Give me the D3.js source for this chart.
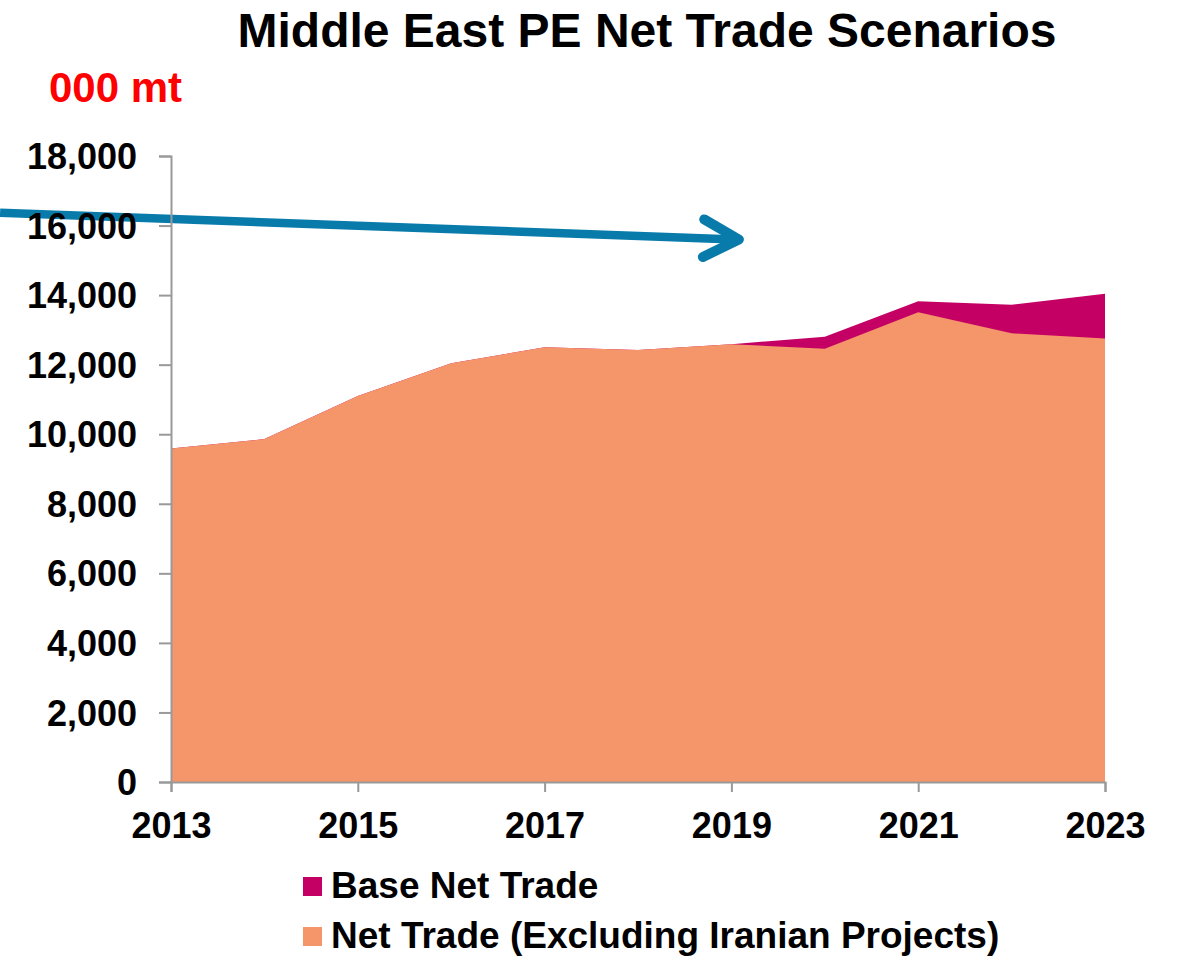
<!DOCTYPE html>
<html><head><meta charset="utf-8">
<script src="https://cdn.jsdelivr.net/npm/d3@7"></script>
<style>body{margin:0;background:#fff}svg{display:block;font-family:"Liberation Sans",Arial,sans-serif}</style>
</head><body>
<svg id="c" width="1178" height="965"></svg>
<script>
const years = [2013,2014,2015,2016,2017,2018,2019,2020,2021,2022,2023];
const baseNetTrade = [9590,9860,11100,12040,12500,12420,12590,12800,13820,13720,14040];
const netTradeExIran = [9590,9860,11100,12040,12500,12420,12590,12460,13510,12900,12750];
const yTicks = [0,2000,4000,6000,8000,10000,12000,14000,16000,18000];
const xTicks = [2013,2015,2017,2019,2021,2023];
const seriesNames = ["Base Net Trade","Net Trade (Excluding Iranian Projects)"];
const seriesColors = ["#C40064","#F4956A"];
// annotation arrow in data space
const arrowFrom = [2011.17, 16370];
const arrowTo = [2019.08, 15600];

const svg = d3.select("#c");
const x = d3.scaleLinear().domain([2013,2023]).range([171,1105]);
const y = d3.scaleLinear().domain([0,18000]).range([782,156]);

const area = vals => d3.area().x((d,i)=>x(years[i])).y0(y(0)).y1(d=>y(d))(vals);
svg.append("path").attr("d",area(baseNetTrade)).attr("fill",seriesColors[0]);
svg.append("path").attr("d",area(netTradeExIran)).attr("fill",seriesColors[1]);

// Arrow annotation (behind axes)
const ax1 = x(arrowFrom[0]), ay1 = y(arrowFrom[1]), ax2 = x(arrowTo[0]), ay2 = y(arrowTo[1]);
const ang = Math.atan2(ay2-ay1, ax2-ax1);
const hl = 40, ha = 28*Math.PI/180;
svg.append("line").attr("x1",ax1).attr("y1",ay1).attr("x2",ax2-4).attr("y2",ay2)
  .attr("stroke","#087BAB").attr("stroke-width",8.5);
svg.append("path")
  .attr("d",`M${ax2-hl*Math.cos(ang-ha)},${ay2-hl*Math.sin(ang-ha)}L${ax2},${ay2}L${ax2-hl*Math.cos(ang+ha)},${ay2-hl*Math.sin(ang+ha)}`)
  .attr("fill","none").attr("stroke","#087BAB").attr("stroke-width",10).attr("stroke-linecap","round").attr("stroke-linejoin","round");

const axisColor = "#999";
const yAxis = svg.append("g").attr("transform","translate(171,0)")
  .call(d3.axisLeft(y).tickValues(yTicks).tickFormat(d3.format(",")).tickSize(12).tickPadding(22));
const xAxis = svg.append("g").attr("transform","translate(0,782)")
  .call(d3.axisBottom(x).tickValues(xTicks).tickFormat(d3.format("d")).tickSize(10).tickPadding(20));
[yAxis,xAxis].forEach(g=>{
  g.select(".domain").attr("stroke",axisColor).attr("stroke-width",2);
  g.selectAll(".tick line").attr("stroke",axisColor).attr("stroke-width",2);
  g.selectAll(".tick text").attr("fill","#000").attr("font-size",36).attr("font-weight","bold")
   .attr("font-family","'Liberation Sans',Arial,sans-serif");
});
yAxis.selectAll(".tick text").attr("dy","0.35em");
xAxis.selectAll(".tick text").attr("dy","0.71em");

// Title
svg.append("text").attr("x",647).attr("y",47).attr("text-anchor","middle")
  .attr("font-size",48).attr("font-weight","bold").text("Middle East PE Net Trade Scenarios");
svg.append("text").attr("x",49).attr("y",102).attr("fill","#FF0000")
  .attr("font-size",42).attr("font-weight","bold").text("000 mt");

// Legend
const leg = svg.append("g");
seriesNames.forEach((n,i)=>{
  const yy = 877 + i*50;
  leg.append("rect").attr("x",303).attr("y",yy).attr("width",19).attr("height",19).attr("fill",seriesColors[i]);
  leg.append("text").attr("x",331).attr("y",yy+21).attr("font-size",37).attr("font-weight","bold").text(n);
});
</script>
</body></html>
